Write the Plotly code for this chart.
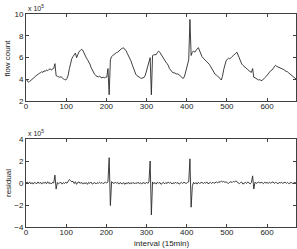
import plotly.graph_objects as go

# interval index (15-min), sampled every 3 intervals
intervals = list(range(0, 673, 3))

# flow count (x 10^5)
flow = [
    4.05, 3.85, 3.75, 3.82, 3.9, 4.02, 4.1, 4.22, 4.3, 4.42,
    4.45, 4.58, 4.6, 4.72, 4.65, 4.8, 4.74, 4.88, 4.8, 4.92,
    4.97, 4.88, 4.96, 5.02, 5.45, 4.35, 4.3, 4.24, 4.2, 4.26,
    4.12, 4.06, 4.0, 3.95, 4.1, 4.4, 5.0, 5.6, 5.9, 6.1,
    6.3, 6.42, 6.0, 6.35, 6.55, 6.64, 6.76, 6.7, 6.4, 6.22,
    6.0, 5.82, 5.64, 5.42, 5.1, 4.85, 4.6, 4.46, 4.34, 4.3,
    4.24, 4.3, 4.2, 4.14, 4.22, 4.15, 4.2, 4.22, 5.0, 2.6,
    5.8, 6.1, 6.2, 6.32, 6.34, 6.46, 6.5, 6.62, 6.74, 6.8,
    6.86, 6.9, 6.74, 6.66, 6.4, 6.2, 5.95, 5.72, 5.4, 5.05,
    4.7, 4.5, 4.36, 4.26, 4.2, 4.14, 4.1, 4.16, 4.2, 4.4,
    4.8, 5.3, 5.7, 6.0, 2.6, 6.2, 6.26, 6.3, 6.28, 6.46,
    6.6, 6.5, 6.3, 6.12, 5.9, 5.76, 5.6, 5.46, 5.3, 5.0,
    4.86, 4.74, 4.6, 4.62, 4.54, 4.5, 4.52, 4.44, 4.36, 4.24,
    4.1, 4.16, 4.5, 4.9, 5.3, 5.8, 9.5, 6.2, 6.5, 6.62,
    6.5, 6.7, 6.8, 6.92, 6.6, 6.3, 6.1, 5.96, 5.84, 5.8,
    5.7, 5.56, 5.4, 5.22, 5.0, 4.8, 4.6, 4.46, 4.4, 4.3,
    4.25, 4.1, 3.95, 4.3, 4.9, 5.4, 5.7, 5.86, 5.95, 5.88,
    6.05, 6.1, 6.2, 6.36, 6.4, 6.5, 6.2, 5.85, 5.6, 5.42,
    5.3, 5.22, 5.1, 5.02, 4.9, 4.8, 4.76, 4.65, 5.0, 4.2,
    4.16, 4.1, 4.06, 3.95, 4.0, 3.9, 3.92, 4.0, 4.15, 4.25,
    4.4, 4.5, 4.66, 4.8, 4.86, 5.0, 5.15, 5.3, 5.2, 5.16,
    5.1, 5.06, 5.0, 4.94, 4.9, 4.8, 4.76, 4.7, 4.6, 4.5,
    4.4, 4.3, 4.2, 4.1, 4.05,
]

# residual (x 10^5)
residual = [
    0.0, 0.08, -0.05, 0.1, -0.08, 0.04, -0.1, 0.06, 0.0, -0.06,
    0.1, -0.04, 0.07, -0.1, 0.05, -0.02, 0.08, -0.07, 0.12, -0.05,
    0.03, -0.09, 0.06, 0.0, 0.72, -0.55, 0.05, -0.08, 0.02, 0.06,
    -0.1, 0.04, -0.05, 0.08, -0.02, 0.15, 0.32, 0.22, 0.1, 0.16,
    -0.05, 0.12, -0.12, 0.06, 0.1, -0.04, 0.08, -0.1, 0.02, -0.06,
    0.04, -0.12, 0.06, -0.03, 0.08, -0.1, 0.0, 0.05, -0.08, 0.03,
    -0.05, 0.07, -0.03, 0.05, -0.06, 0.02, 0.08, 0.0, 0.1, 2.3,
    -2.05, 0.12, 0.05, -0.06, 0.08, -0.02, 0.06, -0.1, 0.04, 0.0,
    -0.08, 0.05, -0.12, 0.02, -0.06, 0.08, -0.1, 0.03, -0.05, 0.06,
    -0.09, 0.02, -0.04, 0.08, -0.07, 0.03, -0.1, 0.05, 0.0, -0.06,
    0.08, -0.04, 0.1, 2.0, -2.9, 0.1, -0.06, 0.04, -0.1, 0.08,
    -0.03, 0.06, -0.12, 0.02, 0.07, -0.08, 0.04, -0.05, 0.1, -0.02,
    0.06, -0.09, 0.03, -0.06, 0.08, -0.03, 0.05, -0.1, 0.02, 0.06,
    -0.05, 0.08, 0.0, -0.04, 0.06, 0.1, 2.2, -2.2, -0.3, 0.06,
    -0.08, 0.04, -0.1, 0.07, -0.04, 0.02, 0.08, -0.06, 0.05, -0.02,
    0.1, -0.07, 0.03, 0.06, -0.05, 0.08, -0.03, 0.05, 0.1, 0.0,
    0.12, 0.06, 0.18, 0.1, 0.14, 0.06, 0.1, 0.02, -0.04, 0.08,
    0.12, 0.04, 0.15, 0.08, 0.2, 0.1, 0.05, -0.06, 0.04, 0.08,
    -0.1, 0.02, 0.06, -0.04, 0.1, 0.0, -0.08, 0.05, 0.65, -0.55,
    0.08, -0.04, 0.06, 0.1, -0.02, 0.07, 0.03, -0.06, 0.08, 0.0,
    0.05, -0.05, 0.09, -0.02, 0.06, 0.1, -0.04, 0.05, 0.02, -0.08,
    0.06, 0.0, 0.08, -0.05, 0.04, 0.07, -0.03, 0.05, -0.06, 0.02,
    0.06, -0.04, 0.03, 0.05, 0.0,
]

x_ticks = [0, 100, 200, 300, 400, 500, 600]
flow_ticks = [2, 4, 6, 8, 10]
resid_ticks = [-4, -2, 0, 2, 4]

FAM = "Liberation Sans, Arial, sans-serif"
FONT = dict(family=FAM, size=8, color="#222")
LINE = "#2a2a2a"
AX = "#404040"

fig = go.Figure()
fig.add_trace(go.Scatter(x=intervals, y=flow, mode="lines",
                         line=dict(color=LINE, width=0.9), xaxis="x", yaxis="y"))
fig.add_trace(go.Scatter(x=intervals, y=residual, mode="lines",
                         line=dict(color=LINE, width=0.9), xaxis="x2", yaxis="y2"))

axcommon = dict(showline=True, linecolor=AX, linewidth=1, mirror="ticks",
                ticks="inside", ticklen=3, tickcolor=AX, tickwidth=1,
                showgrid=False, zeroline=False, tickfont=FONT, automargin=False)

fig.update_layout(
    width=297, height=249,
    margin=dict(l=26, r=1, t=14, b=22, pad=0, autoexpand=False),
    paper_bgcolor="white", plot_bgcolor="white",
    showlegend=False,
    font=FONT,
    xaxis=dict(domain=[0, 1], range=[0, 672], tickvals=x_ticks, anchor="y",
               ticklabelstandoff=-3, **axcommon),
    yaxis=dict(domain=[0.59, 1], range=[2, 10], tickvals=flow_ticks, anchor="x", **axcommon),
    xaxis2=dict(domain=[0, 1], range=[0, 672], tickvals=x_ticks, anchor="y2",
                ticklabelstandoff=-3, **axcommon),
    yaxis2=dict(domain=[0, 0.413], range=[-4, 4], tickvals=resid_ticks, anchor="x2", **axcommon),
)

ann = [
    dict(text="flow count", x=-0.067, y=0.795, xref="paper", yref="paper",
         textangle=-90, showarrow=False, font=FONT, xanchor="center", yanchor="middle"),
    dict(text="residual", x=-0.067, y=0.206, xref="paper", yref="paper",
         textangle=-90, showarrow=False, font=FONT, xanchor="center", yanchor="middle"),
    dict(text="interval (15min)", x=0.5, y=-0.077, xref="paper", yref="paper",
         showarrow=False, font=FONT, xanchor="center", yanchor="middle"),
    dict(text="x 10<sup>5</sup>", x=0.0, y=1.0, xref="paper", yref="paper",
         showarrow=False, font=dict(family=FAM, size=7, color="#222"),
         xanchor="left", yanchor="bottom"),
    dict(text="x 10<sup>5</sup>", x=0.0, y=0.413, xref="paper", yref="paper",
         showarrow=False, font=dict(family=FAM, size=7, color="#222"),
         xanchor="left", yanchor="bottom"),
]
fig.update_layout(annotations=ann)

fig.write_html("out.html", config={"displayModeBar": False, "staticPlot": True},
               post_script="document.body.style.margin='0';document.body.style.padding='0';")
